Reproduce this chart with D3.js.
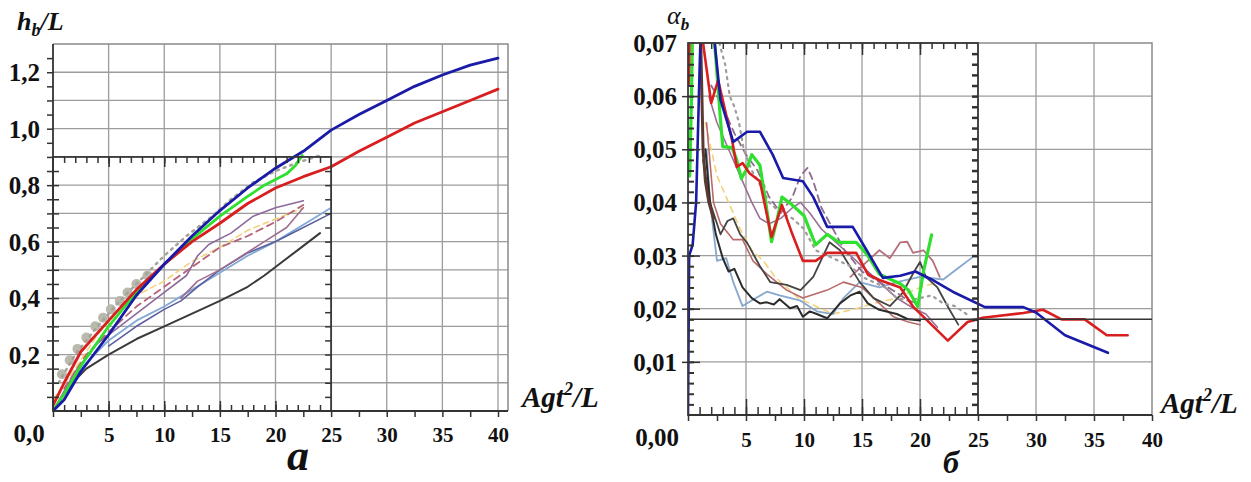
<!DOCTYPE html>
<html>
<head>
<meta charset="utf-8">
<script src="https://cdn.jsdelivr.net/npm/d3@7"></script>
<style>
  body { margin: 0; background: #fff; }
  svg, svg text { font-family: "Liberation Serif", "Times New Roman", serif; }
  svg { display: block; }
  .tick text { font-weight: bold; fill: #111; }
</style>
</head>
<body>
<div class="graphContainer"></div>
<script>
var width = 1251;
var height = 482;
var serif = "'Liberation Serif', 'Times New Roman', serif";

// ---------- panel a : h_b/L ----------
var yTicksA = [0.2, 0.4, 0.6, 0.8, 1.0, 1.2];
var xTicksA = [5, 10, 15, 20, 25, 30, 35, 40];

var blueA = [[0,0],[1,0.04],[2.5,0.14],[5,0.27],[7.5,0.41],[10,0.52],[12.5,0.62],[15,0.71],[17.5,0.79],[20,0.86],[22.5,0.92],[25,0.995],[27.5,1.05],[30,1.1],[32.5,1.15],[35,1.19],[37.5,1.225],[40,1.25]];
var redA = [[0,0.02],[1,0.1],[2.5,0.21],[5,0.32],[7.5,0.43],[10,0.52],[12.5,0.6],[15,0.665],[17.5,0.735],[20,0.79],[22.5,0.83],[25,0.865],[27.5,0.92],[30,0.97],[32.5,1.02],[35,1.06],[37.5,1.1],[40,1.14]];
var greenA = [[0,0],[1,0.06],[2.5,0.16],[5,0.3],[7.5,0.42],[10,0.52],[12.5,0.61],[15,0.69],[17.5,0.76],[19,0.8],[20,0.82],[21,0.84],[21.8,0.87],[22.4,0.905]];
var grayDotA = [[0.5,0.1],[2,0.2],[4,0.3],[6,0.39],[8,0.47],[10,0.55],[12,0.62],[14,0.68],[16,0.75],[18,0.81],[20,0.85],[22,0.88],[24,0.905]];
var grayBlobA = [[0.8,0.13],[1.5,0.18],[2.2,0.22],[3,0.26],[3.8,0.3],[4.5,0.33],[5.2,0.36],[6,0.39],[6.7,0.42],[7.5,0.45],[8.5,0.48]];
var blackA = [[0,0],[1,0.06],[2,0.11],[3,0.15],[5,0.2],[7.5,0.255],[10,0.3],[12.5,0.345],[15,0.39],[17.5,0.44],[19,0.48],[20,0.51],[22,0.57],[24,0.63]];
var steelA = [[0,0],[1,0.06],[2.5,0.15],[4,0.21],[5,0.25],[7.5,0.32],[10,0.37],[12.5,0.43],[15,0.49],[17.5,0.55],[20,0.6],[22.5,0.66],[25,0.72]];
var slateA = [[5,0.23],[7.5,0.3],[10,0.36],[11.5,0.39],[13,0.44],[15,0.5],[17.5,0.56],[20,0.6],[21,0.62],[25,0.7]];
var purpleA = [[0,0],[2,0.14],[4,0.24],[6,0.3],[8,0.36],[10,0.42],[12,0.48],[13,0.55],[14,0.59],[16,0.63],[18,0.69],[20,0.72],[22.5,0.745]];
var mauveA = [[11.5,0.4],[13,0.46],[15,0.5],[17,0.55],[19,0.6],[21,0.65],[22.5,0.72]];
var brownDashA = [[1,0.08],[3,0.2],[5,0.28],[7.5,0.37],[10,0.44],[12.5,0.51],[15,0.58],[17.5,0.62],[20,0.67],[22.5,0.73]];
var yellowDashA = [[0,0.04],[2,0.15],[4,0.27],[6,0.36],[8,0.42],[10,0.46],[12.5,0.53],[15,0.58],[17.5,0.64],[20,0.68],[22.5,0.72]];

// ---------- panel b : alpha_b ----------
var yTicksB = [0.01, 0.02, 0.03, 0.04, 0.05, 0.06, 0.07];
var xTicksB = [5, 10, 15, 20, 25, 30, 35, 40];
var refLevelB = 0.018;

var blueB = [[0,0],[0.1,0.03],[0.4,0.032],[0.7,0.04],[1.0,0.065],[1.2,0.08],[2.1,0.08],[2.3,0.07],[2.8,0.0593],[3.9,0.0514],[5.1,0.0533],[6.2,0.0533],[7.3,0.049],[8.2,0.0446],[9.9,0.044],[10.8,0.041],[12,0.0354],[14.2,0.0354],[15.4,0.031],[16.8,0.0258],[18.3,0.0262],[19.6,0.027],[21,0.0255],[23,0.023],[25.6,0.0203],[28.9,0.0203],[30,0.0193],[32.5,0.015],[36.2,0.0117]];
var redB = [[0.05,0.062],[0.1,0.066],[0.2,0.08],[1.1,0.08],[1.3,0.07],[2.0,0.0587],[2.6,0.063],[3.8,0.0517],[4.2,0.0467],[4.7,0.0474],[5.3,0.0455],[6.2,0.044],[7.2,0.0335],[8.1,0.0395],[9,0.034],[9.9,0.029],[11,0.029],[12,0.0305],[14.5,0.0305],[15.5,0.0265],[16.5,0.0254],[18.3,0.024],[19.4,0.0204],[22.4,0.014],[24.1,0.0175],[25.4,0.0183],[28.9,0.0192],[30.6,0.0198],[32.2,0.018],[34.2,0.018],[36.1,0.015],[37.9,0.015]];
var greenB = [[0.15,0.045],[0.3,0.06],[0.45,0.08],[2.1,0.08],[2.3,0.07],[2.8,0.0555],[3.0,0.0505],[3.8,0.0503],[4.2,0.048],[4.6,0.0445],[5.0,0.046],[5.5,0.049],[6.2,0.047],[6.7,0.04],[7.2,0.0326],[7.7,0.037],[8.1,0.041],[9,0.0395],[10,0.0375],[11,0.032],[12,0.034],[13,0.0325],[14.5,0.0325],[15.5,0.03],[16.5,0.0265],[18.3,0.0247],[19,0.0235],[19.8,0.0204],[20.3,0.027],[21,0.0339]];
var blackB = [[1.5,0.05],[1.9,0.04],[2.4,0.034],[3,0.0295],[3.5,0.027],[4,0.0275],[4.7,0.024],[5.5,0.022],[6.2,0.021],[6.8,0.0212],[7.4,0.0208],[7.9,0.0218],[8.8,0.0201],[9.4,0.0205],[9.9,0.0185],[10.5,0.0195],[11.1,0.019],[12,0.0182],[13.1,0.021],[14,0.0225],[14.8,0.0232],[15.5,0.021],[16.5,0.0198],[18,0.019],[19,0.018],[20,0.0178]];
var charcoalB = [[1.3,0.048],[1.9,0.04],[2.8,0.034],[3.4,0.0365],[3.9,0.037],[4.5,0.034],[5.1,0.0324],[6.2,0.028],[7.1,0.025],[8.5,0.0245],[9.7,0.0235],[10.8,0.026],[12.2,0.0325],[13.1,0.031],[14.8,0.025],[16,0.022],[17.4,0.0205],[18.5,0.023],[19.5,0.027],[20,0.0288],[20.5,0.026],[21.5,0.024],[22.5,0.02],[23.3,0.017]];
var steelB = [[1.6,0.05],[1.9,0.04],[2.5,0.029],[3.3,0.0295],[3.9,0.025],[4.7,0.0205],[5.6,0.0217],[6.8,0.0232],[7.9,0.0225],[9.7,0.0215],[11.1,0.0195],[12.5,0.019],[13.4,0.022],[14.8,0.025],[16.5,0.024],[18,0.025],[20,0.026],[22,0.0255],[23.5,0.028],[24.6,0.0298],[25,0.0298]];
var mauveB = [[1.8,0.06],[2.5,0.055],[3.5,0.05],[4.5,0.045],[5.5,0.04],[6.2,0.037],[7,0.036],[8,0.037],[9,0.039],[9.7,0.04],[10.5,0.038],[11.5,0.035],[12.5,0.033],[13.5,0.031],[15,0.028],[16.5,0.025],[18,0.022],[19.5,0.02],[20.5,0.019],[21.5,0.0165]];
var salmonB = [[1.6,0.055],[2.2,0.04],[2.8,0.036],[3.9,0.033],[4.7,0.033],[5.6,0.029],[6.8,0.0265],[8.5,0.0235],[9.9,0.022],[12,0.0235],[13.4,0.025],[15,0.024],[16.5,0.021],[17.7,0.0185],[19,0.0175],[20,0.017]];
var pinkB = [[14,0.026],[15,0.028],[16.5,0.031],[17.4,0.0295],[18.3,0.0325],[18.9,0.0326],[19.4,0.0305],[20.3,0.031],[21.1,0.029],[21.7,0.026]];
var grayDotB = [[2.7,0.07],[3.2,0.066],[3.6,0.06],[4,0.058],[4.4,0.055],[4.8,0.05],[5.5,0.046],[6.3,0.043],[7,0.04],[8,0.038],[9,0.037],[10,0.035],[11,0.031],[12,0.03],[13,0.029],[14,0.028],[15,0.026],[16,0.025],[17,0.024],[18,0.022],[19,0.0215],[20,0.022],[21,0.0225],[22,0.021],[23,0.0205],[24,0.019]];
var purpleDashB = [[2,0.062],[3,0.058],[4,0.053],[5,0.049],[6,0.046],[7,0.041],[8,0.038],[9,0.041],[9.7,0.045],[10.3,0.0465],[10.8,0.044],[11.5,0.039],[12.5,0.035],[13.5,0.031],[15,0.027],[16.5,0.025],[18,0.023],[19,0.0215],[20,0.021]];
var yellowDashB = [[1.5,0.055],[2.5,0.045],[3.5,0.04],[4.5,0.035],[5.5,0.031],[6.5,0.029],[7.5,0.026],[8.5,0.024],[9.5,0.022],[10.5,0.021],[11.5,0.02],[12.5,0.019],[13.5,0.0195],[14.5,0.02],[16,0.021],[18,0.022],[20,0.024],[21.5,0.025]];
var brownB = [[1.1,0.07],[1.3,0.05],[1.5,0.044],[1.8,0.04],[2.2,0.037]];

var svg = d3.select(".graphContainer").append("svg")
  .attr("width", width).attr("height", height);

var commaFmt = function (p) {
  return function (d) { return d3.format(p)(d).replace(".", ","); };
};

function drawPanel(cfg) {
  var x = cfg.x, y = cfg.y;
  var g = svg.append("g");
  var x0 = x(0), xR = cfg.frameRight, yTop = y(cfg.yMax), yBot = y(0);

  // grid
  g.selectAll(".hg").data(cfg.hGrid).enter().append("line")
    .attr("x1", x0).attr("x2", xR)
    .attr("y1", function (d) { return y(d); }).attr("y2", function (d) { return y(d); })
    .attr("stroke", "#9c9c9c").attr("stroke-width", 1.3);
  g.selectAll(".vg").data(cfg.vGrid).enter().append("line")
    .attr("x1", function (d) { return x(d); }).attr("x2", function (d) { return x(d); })
    .attr("y1", yTop).attr("y2", yBot)
    .attr("stroke", "#9c9c9c").attr("stroke-width", 1.3);
  // outer frame
  g.append("path")
    .attr("d", "M" + x0 + "," + yTop + "H" + xR + "V" + yBot)
    .attr("fill", "none").attr("stroke", "#8a8a8a").attr("stroke-width", 1.5);

  // clip
  var cid = "clip" + cfg.id;
  svg.append("clipPath").attr("id", cid).append("rect")
    .attr("x", x0).attr("y", yTop).attr("width", xR - x0).attr("height", yBot - yTop);
  var plot = svg.append("g").attr("clip-path", "url(#" + cid + ")");
  return { g: g, plot: plot };
}

function addLine(plot, x, y, data, color, w, dash) {
  var line = d3.line().x(function (d) { return x(d[0]); }).y(function (d) { return y(d[1]); });
  plot.append("path").datum(data)
    .attr("d", line)
    .attr("fill", "none")
    .attr("stroke", color)
    .attr("stroke-width", w)
    .attr("stroke-linejoin", "round")
    .attr("stroke-linecap", "round")
    .attr("stroke-dasharray", dash || null);
}

function tickAxis(gen, tx, ty, values, size, sw) {
  var a = svg.append("g").attr("transform", "translate(" + tx + "," + ty + ")")
    .call(gen.tickValues(values).tickSize(size).tickSizeOuter(0).tickFormat(""));
  a.select(".domain").remove();
  a.selectAll("line").attr("stroke", "#333").attr("stroke-width", sw || 1.5);
  return a;
}

function labelAxis(gen, tx, ty, values, fmt, size) {
  var a = svg.append("g").attr("transform", "translate(" + tx + "," + ty + ")")
    .call(gen.tickValues(values).tickSize(0).tickFormat(fmt));
  a.attr("font-family", serif).attr("font-size", size);
  a.select(".domain").remove();
  a.selectAll("text").attr("font-family", serif).style("font-size", size + "px");
  return a;
}

// ================= panel a =================
var xA = d3.scaleLinear().domain([0, 40]).range([53, 498]);
var yA = d3.scaleLinear().domain([0, 1.3]).range([411, 44]);

var pA = drawPanel({
  id: "A", x: xA, y: yA, yMax: 1.3, frameRight: 508,
  hGrid: d3.range(0.1, 1.25, 0.1), vGrid: d3.range(5, 41, 5)
});

// lines a
addLine(pA.plot, xA, yA, yellowDashA, "#f2d37a", 1.6, "6,4");
addLine(pA.plot, xA, yA, blackA, "#3a3a3a", 2, null);
addLine(pA.plot, xA, yA, steelA, "#82a9d6", 1.8, null);
addLine(pA.plot, xA, yA, slateA, "#5b5f9e", 1.6, null);
addLine(pA.plot, xA, yA, purpleA, "#8b6a9c", 1.6, null);
addLine(pA.plot, xA, yA, mauveA, "#9d6d8e", 1.6, null);
addLine(pA.plot, xA, yA, brownDashA, "#b7627a", 1.8, "7,5");
pA.plot.selectAll(".blob").data(grayBlobA).enter().append("circle")
  .attr("cx", function (d) { return xA(d[0]); })
  .attr("cy", function (d) { return yA(d[1]); })
  .attr("r", 5).attr("fill", "#b9b9ae");
addLine(pA.plot, xA, yA, grayDotA, "#a5a39a", 2.5, "2,5");
addLine(pA.plot, xA, yA, greenA, "#2fe02f", 2.8, null);
addLine(pA.plot, xA, yA, redA, "#d81e1e", 2.8, null);
addLine(pA.plot, xA, yA, blueA, "#1a1aa8", 2.8, null);

// inset frame a
svg.append("rect")
  .attr("x", xA(0)).attr("y", yA(0.9))
  .attr("width", xA(25) - xA(0)).attr("height", yA(0) - yA(0.9))
  .attr("fill", "none").attr("stroke", "#3a3a3a").attr("stroke-width", 1.8);
svg.append("line").attr("x1", xA(0)).attr("x2", xA(0)).attr("y1", yA(1.3)).attr("y2", yA(0))
  .attr("stroke", "#333").attr("stroke-width", 1.8);
svg.append("line").attr("x1", xA(0)).attr("x2", 508).attr("y1", yA(0)).attr("y2", yA(0))
  .attr("stroke", "#333").attr("stroke-width", 1.8);

// ticks a
tickAxis(d3.axisLeft(yA), xA(0), 0, d3.range(0.05, 1.3, 0.05), 6);
tickAxis(d3.axisRight(yA), xA(0), 0, d3.range(0.05, 0.9, 0.05), 6);
tickAxis(d3.axisLeft(yA), xA(25), 0, d3.range(0.05, 0.9, 0.05), 6);
tickAxis(d3.axisBottom(xA), 0, yA(0.9), d3.range(1, 25, 1), 6);
tickAxis(d3.axisBottom(xA), 0, yA(0.9), [5, 10, 15, 20], 10);
tickAxis(d3.axisTop(xA), 0, yA(0), d3.range(1, 25, 1), 6);
tickAxis(d3.axisTop(xA), 0, yA(0), [5, 10, 15, 20], 10);
tickAxis(d3.axisBottom(xA), 0, yA(0), d3.range(0, 41, 2.5), 6);

// labels a
var yAxA = labelAxis(d3.axisLeft(yA), xA(0) - 10, 0, yTicksA, commaFmt(".1f"), 25);
yAxA.selectAll("text").attr("dy", "0.34em");
var xAxA = labelAxis(d3.axisBottom(xA), 0, yA(0), xTicksA, d3.format("d"), 21);
xAxA.selectAll("text").attr("y", 16).attr("dy", "0.71em");
svg.append("text").attr("x", 29).attr("y", 442).attr("text-anchor", "middle")
  .attr("font-family", serif)
  .attr("font-size", 25).attr("font-weight", "bold").attr("fill", "#111").text("0,0");

// ================= panel b =================
var xB = d3.scaleLinear().domain([0, 40]).range([688, 1152]);
var yB = d3.scaleLinear().domain([0, 0.07]).range([415, 43]);

var pB = drawPanel({
  id: "B", x: xB, y: yB, yMax: 0.07, frameRight: xB(40),
  hGrid: d3.range(0.01, 0.065, 0.01), vGrid: d3.range(5, 40, 5)
});

// reference level
svg.append("line").attr("x1", xB(0)).attr("x2", xB(40))
  .attr("y1", yB(refLevelB)).attr("y2", yB(refLevelB))
  .attr("stroke", "#333").attr("stroke-width", 1.5);

addLine(pB.plot, xB, yB, yellowDashB, "#f2d37a", 1.6, "6,5");
addLine(pB.plot, xB, yB, steelB, "#86a8cc", 1.8, null);
addLine(pB.plot, xB, yB, salmonB, "#b86a6a", 1.6, null);
addLine(pB.plot, xB, yB, mauveB, "#9a6f98", 1.6, null);
addLine(pB.plot, xB, yB, pinkB, "#b6707c", 1.8, null);
addLine(pB.plot, xB, yB, charcoalB, "#444", 1.8, null);
addLine(pB.plot, xB, yB, blackB, "#2b2b2b", 2, null);
addLine(pB.plot, xB, yB, brownB, "#5a3a30", 3, null);
addLine(pB.plot, xB, yB, purpleDashB, "#8f6b90", 1.8, "7,5");
addLine(pB.plot, xB, yB, grayDotB, "#9f9c9a", 2.2, "2,5");
addLine(pB.plot, xB, yB, greenB, "#2fe02f", 3.2, null);
addLine(pB.plot, xB, yB, redB, "#d81e1e", 2.6, null);
addLine(pB.plot, xB, yB, blueB, "#1a1aa8", 2.6, null);

// inset frame b
svg.append("rect")
  .attr("x", xB(0)).attr("y", yB(0.07))
  .attr("width", xB(25) - xB(0)).attr("height", yB(0) - yB(0.07))
  .attr("fill", "none").attr("stroke", "#3a3a3a").attr("stroke-width", 1.8);
svg.append("line").attr("x1", xB(0)).attr("x2", xB(40)).attr("y1", yB(0)).attr("y2", yB(0))
  .attr("stroke", "#333").attr("stroke-width", 1.8);

// ticks b
tickAxis(d3.axisRight(yB), xB(0), 0, d3.range(0.002, 0.07, 0.002), 6, 2);
tickAxis(d3.axisLeft(yB), xB(25), 0, d3.range(0.002, 0.07, 0.002), 6, 2.5);
tickAxis(d3.axisLeft(yB), xB(0), 0, yTicksB.slice(0, 6), 6);
tickAxis(d3.axisRight(yB), xB(0), 0, yTicksB.slice(0, 6), 12);
tickAxis(d3.axisBottom(xB), 0, yB(0.07), d3.range(1, 25, 1), 6);
tickAxis(d3.axisBottom(xB), 0, yB(0.07), [5, 10, 15, 20], 12);
tickAxis(d3.axisTop(xB), 0, yB(0), d3.range(1, 25, 1), 8);
tickAxis(d3.axisTop(xB), 0, yB(0), [5, 10, 15, 20], 16);
tickAxis(d3.axisBottom(xB), 0, yB(0), d3.range(0, 41, 2.5), 6);

var yAxB = labelAxis(d3.axisLeft(yB), xB(0) - 8, 0, yTicksB, commaFmt(".2f"), 25);
yAxB.selectAll("text").attr("dy", "0.34em");
var xAxB = labelAxis(d3.axisBottom(xB), 0, yB(0), xTicksB, d3.format("d"), 21);
xAxB.selectAll("text").attr("y", 17).attr("dy", "0.71em");
svg.append("text").attr("x", 657).attr("y", 446).attr("text-anchor", "middle")
  .attr("font-family", serif)
  .attr("font-size", 25).attr("font-weight", "bold").attr("fill", "#111").text("0,00");

// ---------- titles ----------
function italicBold(x, y, size) {
  return svg.append("text").attr("x", x).attr("y", y)
    .attr("font-family", serif)
    .attr("font-size", size).attr("font-weight", "bold").attr("font-style", "italic")
    .attr("fill", "#111");
}
var t1 = italicBold(17, 30, 26);
t1.append("tspan").text("h");
t1.append("tspan").attr("font-size", 18).attr("dy", 6).text("b");
t1.append("tspan").attr("dy", -6).text("/L");

function aglabel(x, y) {
  var t = italicBold(x, y, 29);
  t.append("tspan").text("Agt");
  t.append("tspan").attr("font-size", 18).attr("dy", -12).text("2");
  t.append("tspan").attr("dy", 12).text("/L");
}
aglabel(522, 407);
aglabel(1161, 413);

var t2 = svg.append("text").attr("x", 667).attr("y", 24)
  .attr("font-family", serif)
  .attr("font-size", 26).attr("font-style", "italic").attr("fill", "#111");
t2.append("tspan").text("α");
t2.append("tspan").attr("font-size", 17).attr("dy", 6).attr("font-weight", "bold").text("b");

italicBold(287, 470, 44).text("a");
italicBold(943, 473, 32).text("б");
</script>
</body>
</html>
